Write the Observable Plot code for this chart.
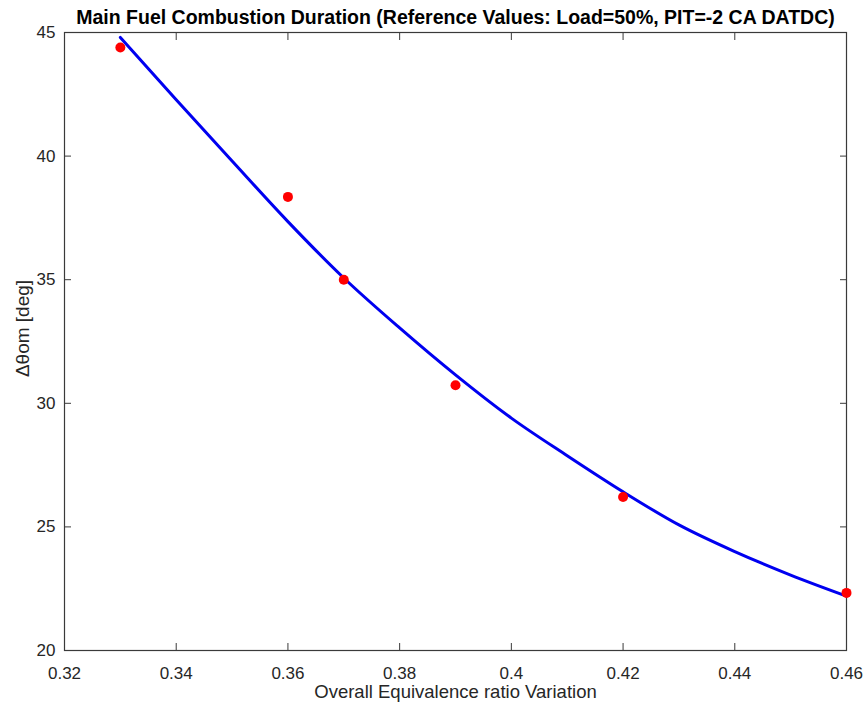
<!DOCTYPE html>
<html><head><meta charset="utf-8">
<script src="https://cdn.jsdelivr.net/npm/d3@7"></script>
<script src="https://cdn.jsdelivr.net/npm/@observablehq/plot@0.6"></script>
<style>body{margin:0;background:#fff}</style>
</head><body><div id="chart"></div>
<script>
const phi = [0.33, 0.36, 0.37, 0.39, 0.42, 0.46];
const duration = [44.39, 38.35, 35.0, 30.73, 26.21, 22.33];
const fitPhi = [0.33, 0.34, 0.35, 0.36, 0.37, 0.38, 0.39, 0.40, 0.41, 0.42, 0.43, 0.44, 0.45, 0.46];
const fitDuration = [44.8, 42.28, 39.8, 37.35, 35.07, 33.05, 31.15, 29.4, 27.88, 26.42, 25.08, 24.0, 23.05, 22.2];
const xTicks = [0.32, 0.34, 0.36, 0.38, 0.40, 0.42, 0.44, 0.46];
const yTicks = [20, 25, 30, 35, 40, 45];
const titleText = "Main Fuel Combustion Duration (Reference Values: Load=50%, PIT=-2 CA DATDC)";
const xLabel = "Overall Equivalence ratio Variation";
const yLabel = "Δθom [deg]";

const points = phi.map((x, i) => ({x, y: duration[i]}));
const fit = fitPhi.map((x, i) => ({x, y: fitDuration[i]}));
const fmt = d => String(+d.toFixed(2));
const blank = () => "";
const axisColor = "#3a3a3a";
const font = "'Liberation Sans', Arial, sans-serif";

const chart = Plot.plot({
  width: 865,
  height: 708,
  marginLeft: 64,
  marginRight: 19,
  marginTop: 32,
  marginBottom: 58,
  style: {fontFamily: font, background: "#fff", color: "#262626"},
  x: {domain: [0.32, 0.46]},
  y: {domain: [20, 45]},
  marks: [
    Plot.frame({stroke: axisColor, strokeWidth: 1.2}),
    // tick labels
    Plot.axisX({anchor: "bottom", ticks: xTicks, tickFormat: fmt, tickSize: 0, tickPadding: 16, fontSize: 17, fill: "#262626", label: null}),
    Plot.axisY({anchor: "left", ticks: yTicks, tickFormat: fmt, tickSize: 0, tickPadding: 9, fontSize: 17, fill: "#262626", label: null}),
    // inward tick marks on all four sides
    Plot.axisX({anchor: "bottom", ticks: xTicks, tickFormat: blank, tickSize: -7, stroke: axisColor, label: null}),
    Plot.axisX({anchor: "top", ticks: xTicks, tickFormat: blank, tickSize: -7, stroke: axisColor, label: null}),
    Plot.axisY({anchor: "left", ticks: yTicks, tickFormat: blank, tickSize: -7, stroke: axisColor, label: null}),
    Plot.axisY({anchor: "right", ticks: yTicks, tickFormat: blank, tickSize: -7, stroke: axisColor, label: null}),
    Plot.line(fit, {x: "x", y: "y", stroke: "#0000f0", strokeWidth: 3, curve: "monotone-x"}),
    Plot.dot(points, {x: "x", y: "y", r: 5, fill: "#ff0000", stroke: "none"}),
    Plot.text([titleText], {text: d => d, frameAnchor: "top", dy: -15, lineAnchor: "middle", textAnchor: "middle", fontSize: 19.5, fontWeight: "bold", fill: "#000"}),
    Plot.text([xLabel], {text: d => d, frameAnchor: "bottom", dy: 42, lineAnchor: "middle", textAnchor: "middle", fontSize: 18.5, fill: "#262626"}),
    Plot.text([yLabel], {text: d => d, frameAnchor: "left", dx: -42, dy: -13, rotate: -90, lineAnchor: "middle", textAnchor: "middle", fontSize: 19, fill: "#262626"})
  ]
});
document.getElementById("chart").appendChild(chart);
</script>
</body></html>
